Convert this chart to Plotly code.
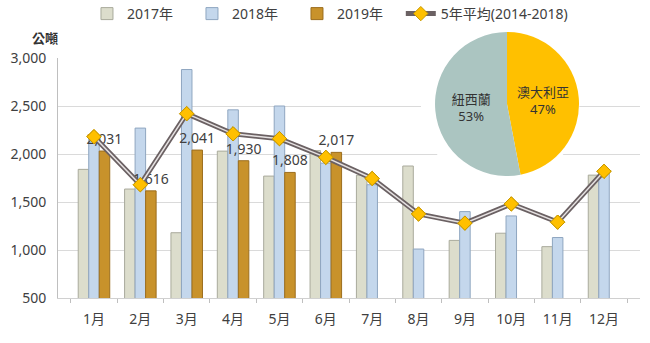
import plotly.graph_objects as go

months = ["1月", "2月", "3月", "4月", "5月", "6月", "7月", "8月", "9月", "10月", "11月", "12月"]
y2017 = [1840, 1635, 1180, 2030, 1770, 2035, 1780, 1875, 1100, 1175, 1035, 1780]
y2018 = [2175, 2270, 2880, 2460, 2500, 1905, 1680, 1010, 1400, 1355, 1130, 1815]
y2019 = [2031, 1616, 2041, 1930, 1808, 2017, None, None, None, None, None, None]
avg5 = [2180, 1680, 2420, 2210, 2160, 1965, 1745, 1375, 1280, 1480, 1290, 1820]

pie_labels = ["澳大利亞", "紐西蘭"]
pie_values = [47, 53]

FONT = "Noto Sans, Noto Sans CJK TC, sans-serif"
TXT = "#404040"

fig = go.Figure()

fig.add_trace(go.Bar(name="2017年", x=months, y=y2017,
                     marker=dict(color="#DCDDCC", line=dict(color="#A9AA9C", width=1))))
fig.add_trace(go.Bar(name="2018年", x=months, y=y2018,
                     marker=dict(color="#C4D7EC", line=dict(color="#8FA6C0", width=1))))
fig.add_trace(go.Bar(name="2019年", x=months, y=y2019,
                     marker=dict(color="#C8922B", line=dict(color="#9C6E1E", width=1)),
                     text=[f"{v:,}" if v is not None else "" for v in y2019],
                     textposition="outside", constraintext="none", cliponaxis=False,
                     textfont=dict(size=14, color=TXT, family=FONT)))

diamond = dict(symbol="diamond", size=11, color="#FFC000", line=dict(color="#C79800", width=1))
fig.add_trace(go.Scatter(name="5年平均(2014-2018)", x=months, y=avg5, mode="lines+markers",
                         line=dict(color="#6B6163", width=5), marker=diamond, legend="legend2"))
fig.add_trace(go.Scatter(x=months, y=avg5, mode="lines", showlegend=False, hoverinfo="skip",
                         line=dict(color="#E6E2E2", width=1.5)))
fig.add_trace(go.Scatter(x=months, y=avg5, mode="markers", showlegend=False, hoverinfo="skip",
                         marker=diamond))

fig.add_trace(go.Pie(labels=pie_labels, values=pie_values, sort=False, direction="clockwise",
                     rotation=0, showlegend=False,
                     marker=dict(colors=["#FFC000", "#ABC5C1"]),
                     textposition="inside",
                     insidetextorientation="horizontal",
                     texttemplate="%{label}<br>%{percent:.0%}",
                     textfont=dict(size=13, color="#333333", family=FONT),
                     domain=dict(x=[0.6478, 0.8952], y=[0.4122, 0.8986])))

# white backdrop behind the pie, hiding the gridlines there
fig.add_shape(type="circle", xref="x", yref="y",
              x0=7.05, x1=10.47, y0=1656, y1=3385,
              fillcolor="white", line=dict(width=0), layer="between")

fig.add_annotation(text="<b>公噸</b>", xref="paper", yref="paper", x=-0.0223, y=0.878,
                   xanchor="center", yanchor="middle", showarrow=False,
                   font=dict(size=13, color="#333333", family=FONT))

fig.update_layout(
    width=650, height=343,
    margin=dict(l=58, r=10, t=2, b=45, autoexpand=False),
    paper_bgcolor="white", plot_bgcolor="white",
    barmode="group", bargap=0.32, bargroupgap=0,
    font=dict(family=FONT, size=14, color=TXT),
    legend=dict(orientation="h", x=0.0498, y=0.9592, yref="container",
                xanchor="left", yanchor="middle",
                entrywidth=60, entrywidthmode="pixels",
                font=dict(size=14, color=TXT, family=FONT)),
    legend2=dict(orientation="h", x=0.589, y=0.9592, yref="container",
                 xanchor="left", yanchor="middle",
                 font=dict(size=14, color=TXT, family=FONT)),
    xaxis=dict(type="category", showline=True, linecolor="#D0D0D0", linewidth=1,
               ticks="outside", tickson="boundaries", ticklen=4, tickcolor="#BFBFBF",
               showgrid=False, ticklabelstandoff=8,
               tickfont=dict(size=14, color=TXT, family=FONT)),
    yaxis=dict(domain=[0, 0.8108], range=[500, 3000], dtick=500, tickformat=",",
               showline=True, linecolor="#BFBFBF", linewidth=1,
               gridcolor="#DADADA", gridwidth=1, ticklabelstandoff=8,
               tickfont=dict(size=14, color=TXT, family=FONT)),
)

fig.write_html("out.html")
